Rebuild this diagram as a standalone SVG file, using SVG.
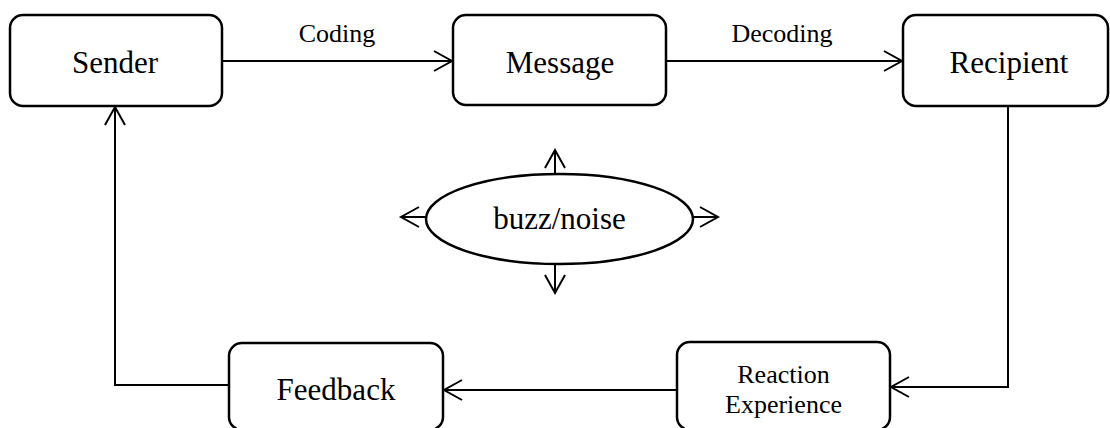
<svg xmlns="http://www.w3.org/2000/svg" width="1110" height="428" viewBox="0 0 1110 428">
<style>
.box{fill:#fff;stroke:#000;stroke-width:2.5}
.t{font-family:"Liberation Serif","Times New Roman",serif;fill:#000;text-anchor:middle}
.big{font-size:31px}
.small{font-size:26px}
.c{fill:none;stroke:#000;stroke-width:2}
</style>
<defs>
<marker id="ah" markerUnits="userSpaceOnUse" viewBox="-20 -12 24 24" refX="0" refY="0" markerWidth="24" markerHeight="24" orient="auto">
<path d="M-18,-10 L0,0 L-18,10" fill="none" stroke="#000" stroke-width="2"/>
</marker>
</defs>
<rect width="1110" height="428" fill="#fff"/>
<g id="connectors">
<path class="c" d="M222,61 H452" marker-end="url(#ah)"/>
<path class="c" d="M666,61 H902" marker-end="url(#ah)"/>
<path class="c" d="M1008,106 V387 H891" marker-end="url(#ah)"/>
<path class="c" d="M677,390 H444" marker-end="url(#ah)"/>
<path class="c" d="M229,385 H115 V107" marker-end="url(#ah)"/>
<path class="c" d="M555,174 V150" marker-end="url(#ah)"/>
<path class="c" d="M555,264 V293" marker-end="url(#ah)"/>
<path class="c" d="M426,217 H401" marker-end="url(#ah)"/>
<path class="c" d="M692,217 H718" marker-end="url(#ah)"/>
<text class="t small" x="337" y="42">Coding</text>
<text class="t small" x="782" y="42">Decoding</text>
</g>
<g id="sender">
<rect class="box" x="10" y="15" width="212" height="91" rx="13"/>
<text class="t big" x="115" y="73">Sender</text>
</g>
<g id="message">
<rect class="box" x="453" y="15" width="213" height="90" rx="13"/>
<text class="t big" x="560" y="73">Message</text>
</g>
<g id="recipient">
<rect class="box" x="903" y="15" width="205" height="91" rx="13"/>
<text class="t big" x="1009" y="73">Recipient</text>
</g>
<g id="noise">
<ellipse class="box" cx="559.5" cy="219" rx="133.5" ry="45"/>
<text class="t big" x="559.5" y="229">buzz/noise</text>
</g>
<g id="reaction">
<rect class="box" x="677" y="342" width="213" height="88" rx="13"/>
<text class="t small" x="783.5" y="383">Reaction</text>
<text class="t small" x="783.5" y="413">Experience</text>
</g>
<g id="feedback">
<rect class="box" x="229" y="343" width="214" height="87" rx="13"/>
<text class="t big" x="336" y="400">Feedback</text>
</g>
</svg>
